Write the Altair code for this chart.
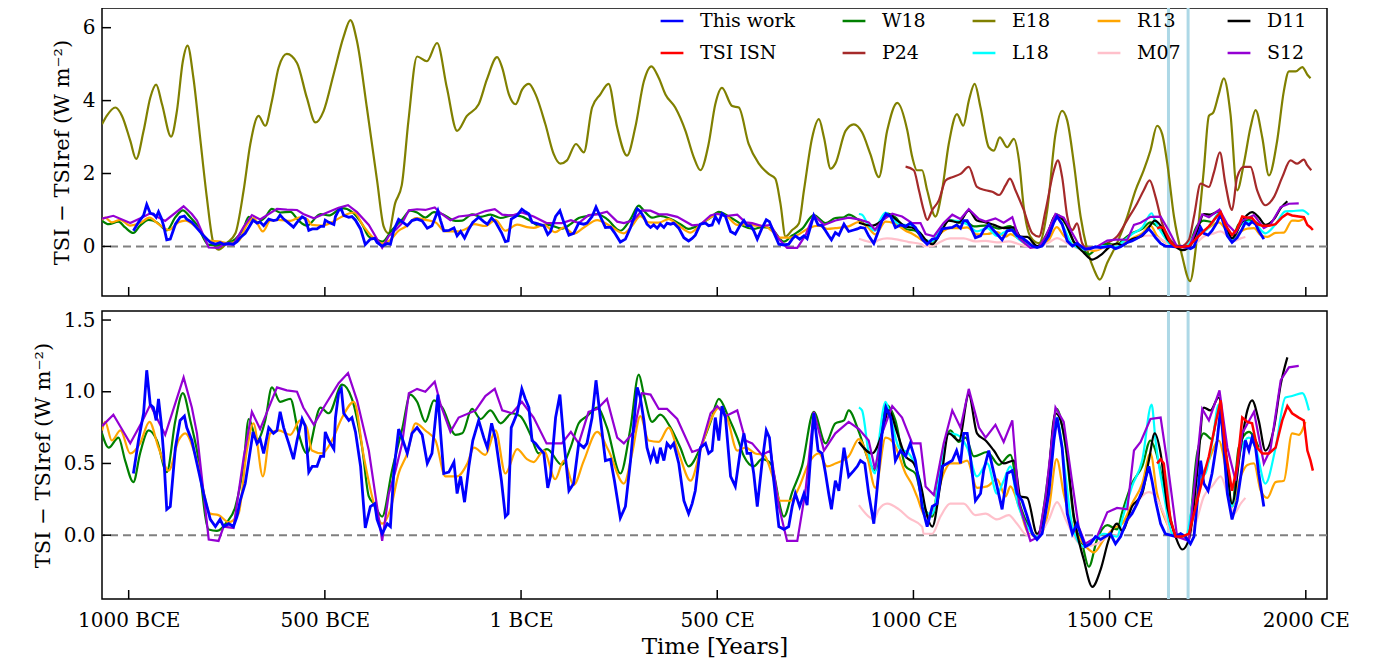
import altair as alt
import pandas as pd

# ---------------- data (year, TSI - TSI_ref in W m^-2) ----------------
THIS_WORK = [(-988,0.43),(-975,0.66),(-962,0.85),(-954,1.15),(-945,0.91),(-937,0.89),(-930,0.80),(-924,0.95),(-917,0.78),(-911,0.57),(-903,0.18),(-894,0.20),(-881,0.61),(-869,0.80),(-858,0.83),(-852,0.75),(-839,0.66),(-826,0.50),(-809,0.29),(-792,0.11),(-779,0.06),(-767,0.11),(-758,0.06),(-745,0.08),(-733,0.06),(-724,0.13),(-716,0.24),(-703,0.36),(-694,0.52),(-683,0.72),(-673,0.64),(-665,0.67),(-656,0.57),(-643,0.75),(-631,0.71),(-622,0.73),(-614,0.86),(-605,0.75),(-592,0.64),(-580,0.53),(-571,0.66),(-558,0.81),(-550,0.76),(-541,0.44),(-532,0.48),(-520,0.48),(-511,0.55),(-503,0.55),(-499,0.72),(-490,0.66),(-477,0.60),(-473,0.82),(-465,0.99),(-458,1.02),(-452,0.85),(-439,0.80),(-431,0.82),(-422,0.72),(-409,0.48),(-397,0.05),(-384,0.20),(-373,0.22),(-367,0.11),(-354,0.01),(-341,0.08),(-333,0.06),(-324,0.45),(-312,0.74),(-301,0.66),(-290,0.57),(-278,0.71),(-265,0.75),(-252,0.70),(-239,0.50),(-227,0.57),(-212,0.98),(-205,0.71),(-197,0.43),(-184,0.44),(-171,0.51),(-163,0.29),(-154,0.41),(-144,0.23),(-133,0.48),(-123,0.66),(-108,0.80),(-95,0.68),(-86,0.61),(-75,0.78),(-65,0.67),(-50,0.38),(-40,0.13),(-33,0.15),(-25,0.75),(-10,0.85),(2,1.02),(11,0.95),(20,0.89),(28,0.66),(37,0.64),(45,0.61),(58,0.57),(68,0.33),(75,0.41),(88,0.82),(99,0.98),(109,0.66),(122,0.31),(134,0.36),(147,0.64),(160,0.61),(168,0.64),(181,0.82),(191,1.08),(202,0.82),(215,0.52),(228,0.53),(238,0.38),(253,0.12),(266,0.20),(279,0.52),(291,0.89),(296,1.03),(304,0.96),(313,0.80),(321,0.61),(330,0.52),(338,0.59),(347,0.50),(355,0.61),(364,0.52),(372,0.64),(381,0.61),(389,0.64),(402,0.50),(415,0.24),(427,0.15),(436,0.22),(444,0.31),(457,0.61),(470,0.64),(478,0.57),(487,0.59),(495,0.82),(504,0.66),(512,0.90),(521,0.82),(534,0.41),(546,0.34),(559,0.59),(568,0.71),(576,0.57),(585,0.57),(593,0.43),(602,0.20),(614,0.50),(625,0.73),(633,0.68),(644,0.38),(657,0.06),(670,0.04),(682,0.06),(691,0.20),(699,0.29),(710,0.20),(721,0.29),(729,0.21),(738,0.55),(746,0.85),(757,0.59),(767,0.57),(776,0.43),(784,0.29),(791,0.18),(801,0.38),(810,0.31),(823,0.61),(835,0.41),(848,0.45),(857,0.48),(865,0.52),(876,0.50),(886,0.29),(899,0.08),(908,0.34),(920,0.71),(930,0.89),(942,0.82),(954,0.52),(967,0.59),(980,0.55),(992,0.64),(1005,0.52),(1018,0.29),(1022,0.20),(1035,0.06),(1048,0.20),(1060,0.22),(1073,0.48),(1086,0.50),(1099,0.52),(1110,0.59),(1120,0.50),(1128,0.71),(1137,0.71),(1145,0.55),(1158,0.24),(1171,0.29),(1179,0.45),(1192,0.59),(1201,0.48),(1213,0.34),(1226,0.18),(1239,0.43),(1252,0.45),(1264,0.29),(1277,0.24),(1290,0.13),(1303,0.01),(1315,-0.03),(1328,0.01),(1345,0.29),(1358,0.66),(1366,0.82),(1379,0.61),(1392,0.15),(1405,0.01),(1417,0.08),(1426,0.01),(1438,-0.08),(1451,-0.06),(1464,-0.01),(1477,-0.03),(1489,-0.01),(1502,0.01),(1515,-0.06),(1528,-0.01),(1545,0.11),(1557,0.15),(1570,0.22),(1583,0.31),(1600,0.48),(1608,0.38),(1617,0.24),(1630,0.08),(1642,0.01),(1655,0.00),(1668,-0.01),(1681,0.01),(1693,-0.01),(1706,-0.06),(1715,-0.01),(1723,0.22),(1732,0.52),(1740,0.36),(1751,0.31),(1761,0.43),(1774,0.66),(1783,0.89),(1791,0.61),(1800,0.29),(1812,0.11),(1825,0.24),(1838,0.48),(1846,0.66),(1855,0.59),(1863,0.68),(1872,0.61),(1880,0.43),(1893,0.20)]

TSI_ISN = [(1621,0.50),(1630,0.53),(1638,0.50),(1647,0.29),(1655,0.11),(1668,-0.01),(1685,-0.01),(1702,0.01),(1715,0.15),(1736,0.38),(1753,0.55),(1770,0.78),(1783,0.94),(1795,0.59),(1812,0.31),(1825,0.48),(1838,0.82),(1851,0.79),(1863,0.78),(1876,0.61),(1889,0.57),(1906,0.57),(1923,0.61),(1940,0.80),(1953,0.90),(1965,0.85),(1982,0.82),(1995,0.80),(2004,0.59),(2012,0.52),(2018,0.45)]

W18 = [(-1068,0.71),(-1051,0.61),(-1026,0.68),(-1009,0.52),(-988,0.37),(-971,0.57),(-949,0.73),(-928,0.66),(-903,0.44),(-881,0.80),(-862,0.99),(-843,0.80),(-826,0.59),(-796,0.04),(-775,0.03),(-750,0.09),(-728,0.20),(-707,0.50),(-694,0.81),(-673,0.66),(-652,0.80),(-635,1.03),(-614,0.93),(-588,0.95),(-567,0.71),(-546,0.57),(-511,0.89),(-490,0.85),(-456,1.05),(-431,0.95),(-405,0.61),(-388,0.27),(-375,0.22),(-354,0.13),(-329,0.45),(-303,0.74),(-282,0.98),(-265,0.93),(-244,0.79),(-222,0.94),(-201,0.89),(-167,0.70),(-150,0.71),(-125,0.88),(-103,0.81),(-78,0.87),(-52,0.78),(-23,0.85),(-2,0.83),(24,0.70),(45,0.57),(66,0.60),(104,0.49),(126,0.61),(147,0.78),(168,0.83),(194,0.89),(219,0.75),(253,0.43),(279,0.75),(300,1.12),(313,0.98),(334,0.79),(355,0.84),(381,0.75),(406,0.61),(427,0.48),(457,0.61),(483,0.79),(504,0.95),(529,0.82),(551,0.68),(568,0.55),(593,0.48),(614,0.53),(636,0.50),(670,0.13),(691,0.30),(716,0.48),(746,0.86),(776,0.64),(801,0.78),(823,0.80),(835,0.87),(861,0.72),(886,0.52),(903,0.45),(929,0.91),(954,0.80),(980,0.48),(1005,0.43),(1026,0.20),(1048,0.13),(1069,0.50),(1094,0.73),(1116,0.65),(1133,0.68),(1154,0.55),(1188,0.58),(1218,0.49),(1247,0.56),(1269,0.24),(1294,0.06),(1315,-0.01),(1345,0.45),(1365,0.88),(1388,0.61),(1409,0.11),(1430,-0.06),(1447,-0.22),(1468,-0.03),(1494,0.07),(1519,0.04),(1532,0.16),(1557,0.36),(1583,0.48),(1604,0.66),(1617,0.59),(1642,0.29),(1668,0.01),(1698,-0.01),(1723,0.57),(1740,0.71),(1761,0.67),(1778,0.89),(1795,0.59),(1812,0.20),(1829,0.61),(1855,0.72),(1880,0.61)]

P24 = [(980,2.19),(1001,2.09),(1014,1.54),(1026,1.00),(1035,0.73),(1048,1.00),(1065,1.27),(1082,1.81),(1099,1.90),(1120,1.99),(1141,2.18),(1162,1.63),(1184,1.54),(1201,1.50),(1218,1.41),(1235,1.68),(1246,1.86),(1260,1.54),(1281,1.00),(1303,0.36),(1320,0.27),(1337,1.00),(1358,2.09),(1368,2.36),(1379,1.90),(1392,0.82),(1405,0.45),(1417,0.63),(1430,0.09),(1447,-0.09),(1468,-0.09),(1494,0.09),(1519,0.27),(1545,0.73),(1570,1.18),(1587,1.54),(1602,1.81),(1617,1.36),(1634,0.63),(1655,0.18),(1681,0.00),(1702,0.18),(1715,0.82),(1732,1.72),(1753,1.63),(1766,2.04),(1781,2.58),(1795,1.72),(1812,1.00),(1825,1.90),(1842,2.18),(1859,2.18),(1876,1.54),(1897,1.13),(1919,1.36),(1940,1.90),(1961,2.36),(1978,2.27),(1995,2.38),(2004,2.22),(2014,2.09)]

E18 = [(-1068,3.35),(-1056,3.58),(-1034,3.81),(-1017,3.58),(-996,2.90),(-981,2.40),(-962,3.17),(-945,4.08),(-930,4.44),(-915,3.90),(-892,3.01),(-877,3.72),(-862,5.08),(-850,5.51),(-835,4.62),(-818,2.99),(-801,1.36),(-784,0.09),(-771,-0.09),(-750,0.09),(-728,0.36),(-707,1.54),(-690,2.81),(-669,3.58),(-652,3.31),(-635,3.99),(-618,4.90),(-597,5.28),(-571,5.03),(-546,4.08),(-524,3.40),(-503,3.72),(-478,4.71),(-452,5.76),(-435,6.21),(-418,5.62),(-393,3.81),(-367,1.81),(-350,0.54),(-338,0.36),(-321,1.18),(-304,1.68),(-287,3.45),(-265,5.21),(-240,5.08),(-214,5.58),(-189,4.35),(-163,3.17),(-138,3.58),(-108,3.90),(-87,4.58),(-61,5.19),(-48,4.90),(-31,4.17),(-14,3.90),(3,4.31),(20,4.46),(37,4.17),(62,3.35),(83,2.54),(100,2.27),(117,2.36),(140,2.81),(160,2.58),(181,3.81),(202,4.17),(223,4.46),(245,3.26),(270,2.49),(291,3.26),(313,4.53),(332,4.94),(351,4.62),(368,4.17),(393,3.81),(419,3.17),(440,2.45),(457,2.09),(478,2.81),(495,3.90),(512,4.35),(538,3.85),(555,3.81),(580,2.81),(606,2.27),(631,1.99),(648,1.86),(661,1.18),(674,0.27),(691,0.45),(708,0.63),(721,1.54),(742,2.99),(759,3.49),(772,2.99),(789,2.13),(801,2.27),(827,3.17),(848,3.35),(869,3.13),(890,2.54),(912,1.90),(933,3.17),(959,3.94),(984,3.20),(997,2.45),(1009,2.09),(1022,2.09),(1035,1.54),(1056,0.82),(1073,1.54),(1090,2.81),(1111,3.63),(1127,3.31),(1141,3.99),(1156,4.46),(1171,3.81),(1192,2.72),(1205,2.63),(1220,2.99),(1239,2.72),(1256,2.95),(1269,2.36),(1281,1.09),(1298,0.27),(1320,0.09),(1341,1.00),(1362,3.08),(1379,3.72),(1392,3.45),(1409,2.27),(1426,0.82),(1443,-0.09),(1460,-0.63),(1475,-0.91),(1494,-0.45),(1519,0.09),(1545,0.82),(1566,1.54),(1587,2.09),(1604,2.63),(1621,3.31),(1634,3.08),(1647,2.27),(1664,0.82),(1685,-0.27),(1705,-0.95),(1723,0.27),(1740,2.09),(1753,3.58),(1764,3.67),(1778,4.17),(1791,4.61),(1808,3.63),(1825,1.54),(1842,2.27),(1859,3.26),(1872,3.74),(1889,2.99),(1906,1.95),(1927,2.90),(1944,4.26),(1957,4.80),(1974,4.80),(1991,4.92),(2004,4.71),(2012,4.61)]

L18 = [(861,0.89),(869,0.87),(886,0.57),(902,0.43),(912,0.66),(929,0.93),(942,0.82),(963,0.61),(988,0.57),(1005,0.48),(1022,0.29),(1026,0.15),(1048,0.15),(1069,0.45),(1090,0.71),(1111,0.70),(1137,0.61),(1162,0.41),(1188,0.50),(1213,0.29),(1230,0.38),(1247,0.48),(1264,0.24),(1290,0.06),(1315,-0.01),(1345,0.38),(1365,0.82),(1383,0.52),(1405,0.06),(1434,-0.08),(1460,-0.03),(1485,0.01),(1519,-0.01),(1532,0.11),(1557,0.34),(1583,0.52),(1607,0.91),(1617,0.66),(1638,0.29),(1660,0.01),(1693,-0.01),(1723,0.38),(1744,0.43),(1761,0.64),(1778,0.91),(1795,0.52),(1812,0.20),(1834,0.59),(1855,0.68),(1872,0.61),(1897,0.36),(1923,0.61),(1948,0.96),(1965,0.97),(1991,0.99),(2008,0.87)]

R13 = [(-1068,0.73),(-1060,0.79),(-1043,0.66),(-1021,0.73),(-996,0.57),(-971,0.64),(-947,0.79),(-924,0.61),(-898,0.45),(-873,0.66),(-856,0.71),(-826,0.52),(-792,0.15),(-771,0.14),(-745,0.09),(-720,0.15),(-699,0.59),(-682,0.78),(-658,0.41),(-639,0.71),(-618,0.73),(-588,0.70),(-563,0.80),(-546,0.75),(-533,0.59),(-507,0.57),(-482,0.66),(-456,0.82),(-426,0.93),(-401,0.55),(-375,0.22),(-354,0.08),(-333,0.18),(-312,0.43),(-290,0.57),(-269,0.78),(-244,0.73),(-218,0.66),(-193,0.41),(-163,0.41),(-137,0.50),(-120,0.61),(-91,0.56),(-65,0.73),(-40,0.43),(-10,0.60),(15,0.53),(32,0.51),(58,0.59),(87,0.39),(109,0.52),(134,0.35),(160,0.52),(194,0.72),(223,0.59),(262,0.36),(283,0.57),(304,0.83),(325,0.66),(351,0.65),(376,0.75),(402,0.57),(432,0.38),(457,0.59),(483,0.80),(504,0.89),(525,0.82),(551,0.59),(572,0.61),(597,0.57),(619,0.56),(640,0.42),(661,0.24),(687,0.24),(708,0.33),(733,0.50),(759,0.57),(780,0.48),(801,0.50),(835,0.55),(861,0.67),(882,0.55),(903,0.33),(929,0.68),(950,0.64),(980,0.43),(997,0.35),(1009,0.27),(1031,0.13),(1052,0.20),(1077,0.43),(1094,0.50),(1116,0.50),(1137,0.52),(1162,0.33),(1188,0.34),(1213,0.39),(1235,0.27),(1247,0.34),(1269,0.20),(1294,0.01),(1320,-0.01),(1345,0.18),(1365,0.53),(1383,0.29),(1404,0.08),(1434,-0.06),(1460,-0.12),(1485,-0.03),(1511,0.05),(1532,0.08),(1557,0.22),(1583,0.36),(1604,0.57),(1621,0.29),(1642,0.11),(1668,-0.01),(1698,-0.02),(1727,0.34),(1753,0.52),(1778,0.66),(1795,0.48),(1812,0.20),(1834,0.41),(1851,0.49),(1868,0.50),(1885,0.31),(1902,0.26),(1923,0.37),(1944,0.38),(1965,0.71),(1982,0.70),(1999,0.79)]

M07 = [(861,0.21),(886,0.13),(899,0.11),(912,0.18),(933,0.22),(963,0.18),(988,0.12),(1022,0.06),(1026,0.01),(1048,0.01),(1069,0.13),(1094,0.22),(1128,0.22),(1158,0.14),(1184,0.15),(1213,0.11),(1243,0.14),(1264,0.08),(1290,0.00),(1320,0.01),(1345,0.11),(1366,0.23),(1388,0.11),(1409,-0.01),(1434,-0.08),(1468,-0.06),(1494,-0.01),(1519,0.00),(1532,0.04),(1557,0.15),(1579,0.26),(1600,0.30),(1617,0.27),(1638,0.15),(1660,0.01),(1693,-0.01),(1719,0.08),(1740,0.27),(1761,0.34),(1783,0.41),(1800,0.29),(1817,0.15),(1834,0.22),(1846,0.26)]

D11 = [(861,0.65),(895,0.57),(920,0.71),(937,0.87),(959,0.71),(980,0.55),(1001,0.50),(1022,0.31),(1031,0.18),(1048,0.06),(1069,0.36),(1090,0.71),(1116,0.66),(1141,0.98),(1162,0.71),(1184,0.66),(1205,0.59),(1230,0.50),(1256,0.52),(1273,0.27),(1290,0.26),(1315,0.01),(1337,0.20),(1362,0.85),(1388,0.64),(1409,0.13),(1434,-0.17),(1456,-0.36),(1477,-0.24),(1498,-0.03),(1519,0.08),(1532,0.03),(1557,0.20),(1583,0.29),(1600,0.52),(1615,0.71),(1630,0.57),(1647,0.20),(1668,-0.01),(1685,-0.10),(1702,-0.03),(1723,0.43),(1740,0.89),(1757,0.87),(1778,0.96),(1795,0.61),(1812,0.22),(1834,0.61),(1851,0.87),(1863,0.94),(1880,0.80),(1897,0.59),(1919,0.75),(1936,1.05),(1953,1.24)]

S12 = [(-1068,0.76),(-1039,0.84),(-996,0.64),(-966,0.79),(-945,0.91),(-907,0.70),(-860,1.10),(-839,0.89),(-826,0.71),(-796,-0.03),(-771,-0.04),(-758,0.06),(-733,0.05),(-707,0.54),(-686,0.86),(-665,0.74),(-622,1.03),(-597,1.01),(-571,1.00),(-555,0.89),(-528,0.77),(-503,0.89),(-465,1.06),(-441,1.13),(-418,0.94),(-388,0.59),(-354,-0.04),(-337,0.29),(-320,0.45),(-303,0.64),(-286,0.99),(-265,1.02),(-244,1.00),(-220,1.07),(-205,0.91),(-180,0.72),(-159,0.82),(-116,0.87),(-91,0.97),(-67,1.02),(-48,0.87),(-23,0.85),(2,0.93),(32,0.82),(65,0.64),(104,0.64),(127,0.72),(147,0.64),(172,0.86),(194,0.88),(219,0.95),(245,0.68),(262,0.64),(287,0.72),(308,0.99),(330,0.98),(351,0.88),(372,0.88),(398,0.81),(436,0.58),(457,0.60),(483,0.85),(500,0.90),(521,0.83),(551,0.87),(572,0.66),(589,0.64),(614,0.56),(636,0.59),(657,0.20),(678,-0.04),(704,-0.04),(725,0.31),(746,0.86),(772,0.59),(801,0.71),(835,0.79),(861,0.74),(886,0.66),(902,0.46),(920,0.71),(946,0.90),(971,0.82),(997,0.64),(1018,0.64),(1031,0.34),(1052,0.28),(1077,0.64),(1099,0.87),(1120,0.75),(1141,1.02),(1167,0.75),(1184,0.68),(1209,0.77),(1230,0.65),(1252,0.80),(1269,0.22),(1298,-0.04),(1320,-0.01),(1337,0.27),(1362,0.89),(1383,0.79),(1404,0.38),(1421,0.06),(1438,-0.06),(1468,-0.01),(1494,0.16),(1519,0.19),(1545,0.18),(1562,0.59),(1579,0.65),(1604,0.81),(1630,0.82),(1651,0.43),(1672,-0.01),(1702,-0.04),(1736,0.88),(1753,0.80),(1780,1.01),(1800,0.61),(1821,0.38),(1838,0.71),(1868,0.86),(1893,0.50),(1910,0.60),(1936,1.08),(1957,1.17),(1982,1.18)]

SERIES = {"This work": THIS_WORK, "TSI ISN": TSI_ISN, "W18": W18, "P24": P24, "E18": E18,
          "L18": L18, "R13": R13, "M07": M07, "D11": D11, "S12": S12}

# legend order (filled column by column, 5 columns x 2 rows) and colours
LEGEND_ORDER = ["This work", "TSI ISN", "W18", "P24", "E18", "L18", "R13", "M07", "D11", "S12"]
COLORS = ["#0000ff", "#ff0000", "#008000", "#a52a2a", "#808000", "#00ffff", "#ffa500", "#ffc0cb", "#000000", "#9400d3"]
WIDTHS = {"This work": 2.8, "TSI ISN": 2.5}
SMOOTH = {"W18", "P24", "E18", "L18", "R13", "M07", "D11"}

TOP_ORDER = ["E18", "P24", "W18", "R13", "M07", "L18", "D11", "S12", "This work", "TSI ISN"]
BOTTOM_ORDER = ["W18", "R13", "M07", "L18", "D11", "S12", "This work", "TSI ISN"]

X_TICKS = [-1000, -500, 0, 500, 1000, 1500, 2000]
TOP_Y_TICKS = [0, 2, 4, 6]
BOTTOM_Y_TICKS = [0.0, 0.5, 1.0, 1.5]
MAUNDER = [1650, 1700]
X_DOMAIN = [-1068, 2054]
TOP_Y_DOMAIN = [-1.36, 6.54]
BOTTOM_Y_DOMAIN = [-0.445, 1.563]

FONT = "DejaVu Serif, serif"
W, H = 1225, 288
TICK_LEN = 9
YTITLE = "TSI \u2212 TSIref (W m\u207b\u00b2)"

rows = []
for name, pts in SERIES.items():
    for yr, v in pts:
        rows.append({"series": name, "year": yr, "value": v})
df = pd.DataFrame(rows)

x_scale = alt.Scale(domain=X_DOMAIN, nice=False, zero=False)


def make_panel(order, ydom, yticks, yfmt, bottom, show_legend):
    y_scale = alt.Scale(domain=ydom, nice=False, zero=False)
    if bottom:
        x_axis = alt.Axis(values=X_TICKS, title="Time [Years]", labelExpr=(
            "datum.value < 0 ? (-datum.value) + ' BCE' : (datum.value == 0 ? '1 BCE' : datum.value + ' CE')"),
            labelPadding=11, titlePadding=5, titleFontSize=23)
    else:
        x_axis = alt.Axis(values=X_TICKS, labels=False, title=None)
    y_axis = alt.Axis(values=yticks, format=yfmt, title=YTITLE, labelPadding=7, titlePadding=10,
                      titleFontSize=21)
    X = alt.X("year:Q", scale=x_scale, axis=x_axis)
    Y = alt.Y("value:Q", scale=y_scale, axis=y_axis)
    if show_legend:
        legend = alt.Legend(title=None, orient="none", legendX=557, legendY=0, columns=5,
                            direction="vertical",
                            symbolType="stroke", symbolStrokeWidth=2.5, symbolSize=520,
                            labelFont=FONT, labelFontSize=19, labelColor="black",
                            columnPadding=41, rowPadding=9, labelOffset=15, labelLimit=300)
    else:
        legend = None
    color = alt.Color("series:N", scale=alt.Scale(domain=LEGEND_ORDER, range=COLORS), legend=legend)

    layers = []
    layers.append(alt.Chart(pd.DataFrame({"year": MAUNDER})).mark_rule(
        color="#add8e6", strokeWidth=3).encode(x=X))
    layers.append(alt.Chart(pd.DataFrame({"value": [0]})).mark_rule(
        color="grey", strokeWidth=2, strokeDash=[8, 5]).encode(y=Y))
    for name in order:
        sub = df[df.series == name]
        layers.append(alt.Chart(sub).mark_line(
            strokeWidth=WIDTHS.get(name, 2.2), clip=True,
            interpolate="monotone" if name in SMOOTH else "linear").encode(x=X, y=Y, color=color))
    # inward ticks (bottom and left edges)
    layers.append(alt.Chart(pd.DataFrame({"year": X_TICKS})).mark_rule(
        color="black", strokeWidth=1.5).encode(x=X, y=alt.value(H), y2=alt.value(H - TICK_LEN)))
    layers.append(alt.Chart(pd.DataFrame({"value": yticks})).mark_rule(
        color="black", strokeWidth=1.5).encode(y=Y, x=alt.value(0), x2=alt.value(TICK_LEN)))
    return alt.layer(*layers).properties(width=W, height=H)


top = make_panel(TOP_ORDER, TOP_Y_DOMAIN, TOP_Y_TICKS, "d", False, True)
bottom = make_panel(BOTTOM_ORDER, BOTTOM_Y_DOMAIN, BOTTOM_Y_TICKS, ".1f", True, False)

chart = (
    alt.vconcat(top, bottom, spacing=9)
    .resolve_scale(y="independent", color="independent")
    .properties(padding={"left": 23, "top": -3, "right": 5, "bottom": 0})
    .configure_view(stroke="black", strokeWidth=1.5)
    .configure_axis(labelFont=FONT, titleFont=FONT, labelFontSize=20, titleFontSize=20,
                    titleFontWeight="normal", labelColor="black", titleColor="black",
                    grid=False, domain=False, ticks=False)
)

chart.save("out.html", embed_options={"renderer": "svg", "actions": False})
